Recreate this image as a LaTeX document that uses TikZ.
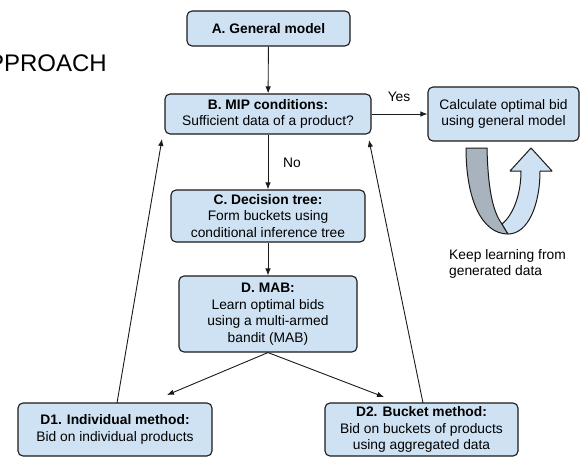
\documentclass[tikz,border=0pt]{standalone}
\usepackage{fontspec}
\setmainfont{Liberation Sans}
\usetikzlibrary{arrows.meta}
\definecolor{boxfill}{HTML}{CFE2F3}
\definecolor{bandgray}{HTML}{A9B3BD}
\definecolor{lineblack}{HTML}{1A1A1A}
\begin{document}
\begin{tikzpicture}[x=1pt,y=-1pt,
  stage/.style={draw=lineblack,line width=1.1pt,fill=boxfill,rounded corners=5pt,
    align=center,inner sep=0pt,font=\fontsize{13.8}{16.5}\selectfont},
  conn/.style={draw=lineblack,line width=0.9pt,-{Latex[length=7pt,width=5.5pt]}},
  lbl/.style={font=\fontsize{13.8}{16.5}\selectfont,inner sep=0pt}]
\path[use as bounding box] (0,0) rectangle (580,468);
\clip (0,0) rectangle (580,468);

\node[font=\fontsize{24}{28}\selectfont,anchor=base east,inner sep=0pt] (title) at (107,72) {PPROACH};

\node[stage,minimum width=163pt,minimum height=35pt] (A) at (268.5,28.5) {\textbf{A. General model}};
\node[stage,minimum width=206pt,minimum height=40pt] (B) at (268,114) {\textbf{B. MIP conditions:}\\Sufficient data of a product?};
\node[stage,minimum width=151pt,minimum height=54pt] (calc) at (503.5,114) {Calculate optimal bid\\using general model};
\node[stage,minimum width=194pt,minimum height=52pt] (C) at (268,216) {\textbf{C. Decision tree:}\\Form buckets using\\conditional inference tree};
\node[stage,minimum width=178pt,minimum height=76pt] (D) at (268,314) {\textbf{D. MAB:}\\Learn optimal bids\\using a multi-armed\\bandit (MAB)};
\node[stage,minimum width=194pt,minimum height=53pt] (D1) at (115,429.5) {\textbf{D1. Individual method:}\\Bid on individual products};
\node[stage,minimum width=193pt,minimum height=53pt] (D2) at (421.5,429.5) {\textbf{D2. Bucket method:}\\Bid on buckets of products\\using aggregated data};

\coordinate (d1tip) at (167,395);
\coordinate (d2tip) at (384,397);
\coordinate (d1foot) at (117,403);
\coordinate (d2foot) at (423,403);
\coordinate (bleft) at (162,139);
\coordinate (bright) at (369,140);

\draw[conn] (A) -- (B);
\draw[conn] (B) -- (C);
\draw[conn] (C) -- (D);
\draw[conn] (B) -- (calc);
\draw[conn] (D.south) -- (d1tip);
\draw[conn] (D.south) -- (d2tip);
\draw[conn] (d1foot) -- (bleft);
\draw[conn] (d2foot) -- (bright);

\node[lbl,anchor=west] (no) at (283,163) {No};
\node[lbl,anchor=center] (yes) at (399,97) {Yes};
\node[lbl,anchor=north west,align=left] (keep) at (449,249) {Keep learning from\\generated data};

% U-turn arrow
\filldraw[fill=bandgray,draw=lineblack,line width=1pt,line join=round]
  (466,148) -- (487,148) .. controls (488,190) and (493,212) .. (502,224)
  -- (508,234) .. controls (482,234) and (466,200) .. (466,148) -- cycle;
\filldraw[fill=boxfill,draw=lineblack,line width=1pt,line join=round]
  (502,224) -- (508,234) .. controls (528,234) and (540,205) .. (540,171)
  -- (552,171) -- (531,148) -- (510,171) -- (521,171)
  .. controls (521,195) and (513,215) .. (502,224) -- cycle;
\end{tikzpicture}
\end{document}
